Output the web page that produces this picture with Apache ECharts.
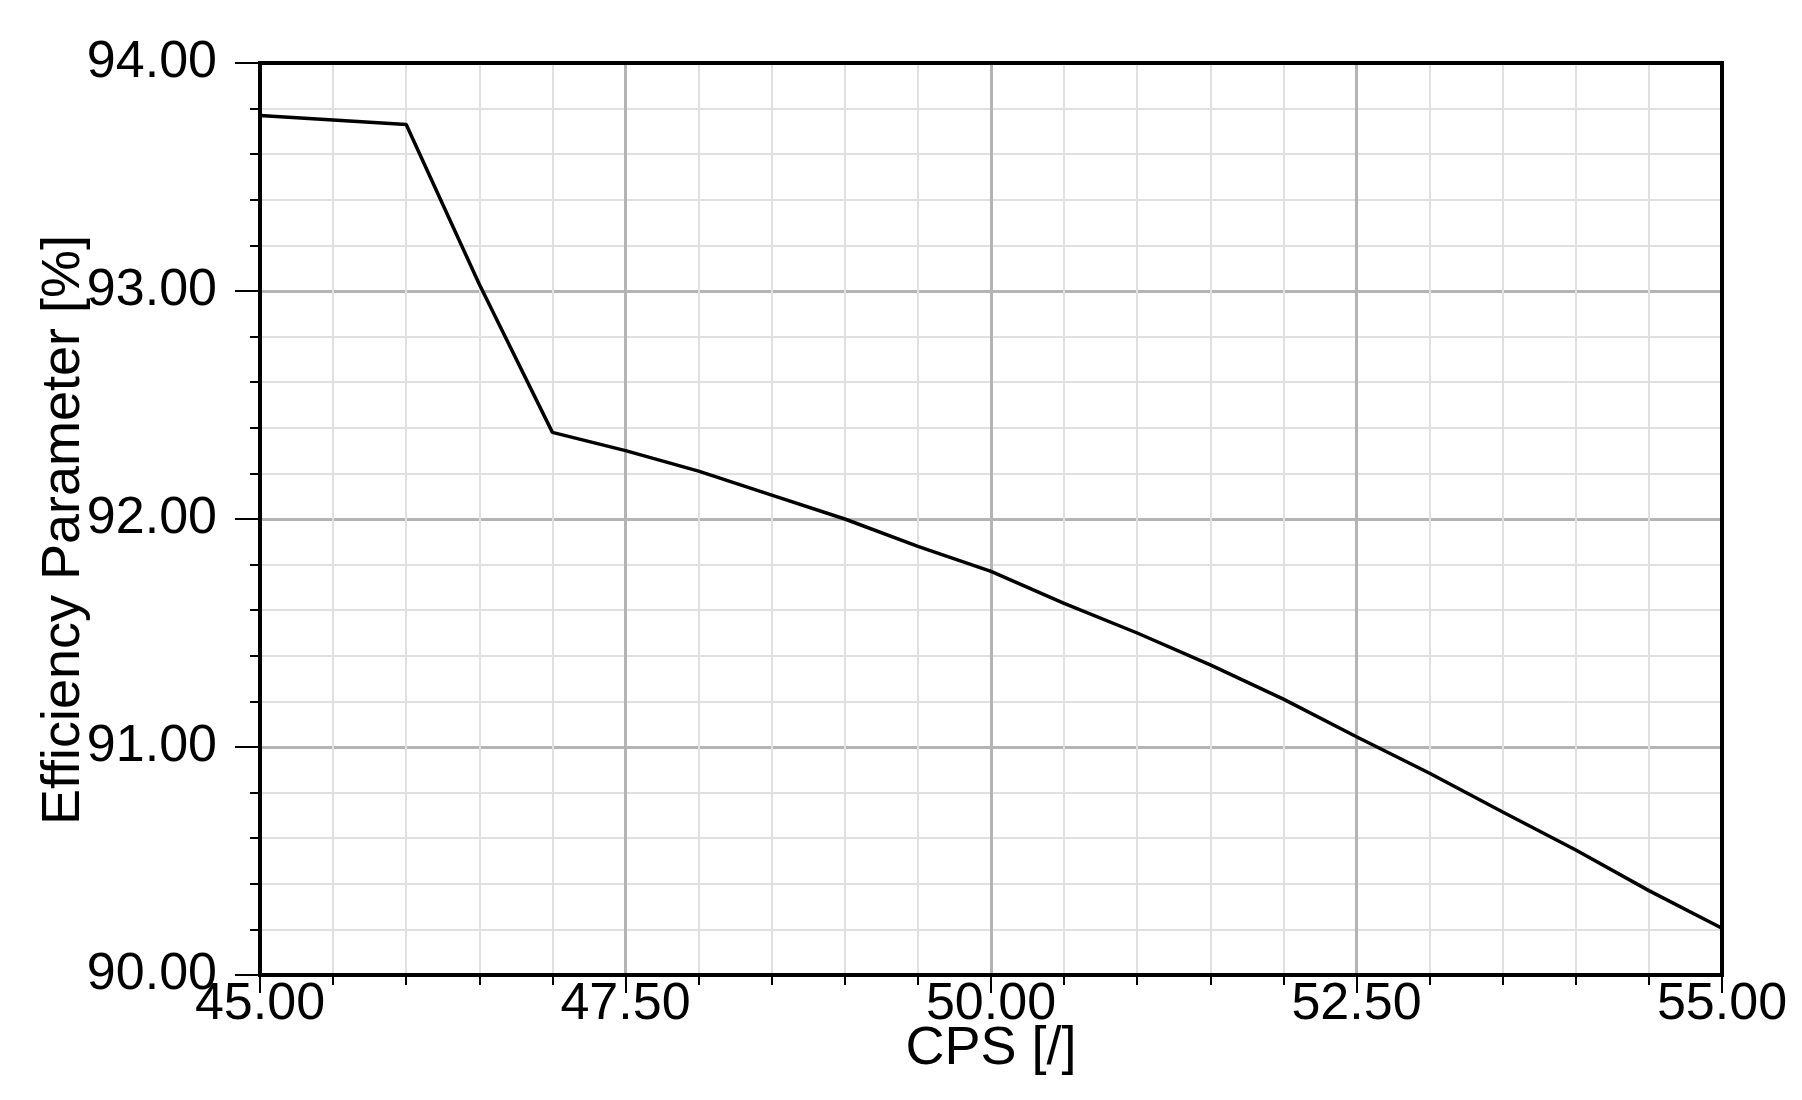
<!DOCTYPE html>
<html>
<head>
<meta charset="utf-8">
<script src="https://cdn.jsdelivr.net/npm/echarts@6/dist/echarts.min.js"></script>
<style>
  html, body { margin: 0; padding: 0; background: #fff; }
  #chart { width: 1802px; height: 1100px; }
</style>
</head>
<body>
<div id="chart"></div>
<script>
// CPS [/] values
const cps = [45.0, 45.5, 46.0, 46.5, 47.0, 47.5, 48.0, 48.5, 49.0, 49.5, 50.0,
             50.5, 51.0, 51.5, 52.0, 52.5, 53.0, 53.5, 54.0, 54.5, 55.0];
// Efficiency Parameter [%]
const efficiency = [93.77, 93.75, 93.73, 93.03, 92.38, 92.30, 92.21, 92.105, 92.00, 91.88, 91.77,
                    91.63, 91.50, 91.36, 91.21, 91.045, 90.885, 90.715, 90.548, 90.37, 90.205];

const xTitle = 'CPS [/]';
const yTitle = 'Efficiency Parameter [%]';

const FONT = "'Liberation Sans', Arial, sans-serif";
const FS = 52;
const NFS = 54;

const chart = echarts.init(document.getElementById('chart'), null, { renderer: 'canvas' });

const lineData = cps.map((x, i) => [x, efficiency[i]]);

chart.setOption({
  animation: false,
  backgroundColor: '#ffffff',
  grid: {
    left: 260, right: 80, top: 63, bottom: 125,
    show: true, borderColor: '#000', borderWidth: 4, backgroundColor: 'transparent', z: 5
  },
  xAxis: {
    type: 'value', min: 45, max: 55, interval: 2.5,
    name: xTitle, nameLocation: 'middle', nameGap: 47, nameMoveOverlap: false,
    nameTextStyle: { fontFamily: FONT, fontSize: NFS, color: '#000' },
    axisLine: { show: true, lineStyle: { color: '#000', width: 4 } },
    axisTick: { show: true, length: 18, lineStyle: { color: '#000', width: 2 } },
    minorTick: { show: true, splitNumber: 5, length: 10, lineStyle: { color: '#000', width: 2 } },
    axisLabel: { fontFamily: FONT, fontSize: FS, color: '#000', margin: 4,
      formatter: v => v.toFixed(2), showMinLabel: true, showMaxLabel: true },
    splitLine: { show: true, lineStyle: { color: '#b4b4b4', width: 3 } },
    minorSplitLine: { show: true, lineStyle: { color: '#e0e0e0', width: 2 } }
  },
  yAxis: {
    type: 'value', min: 90, max: 94, interval: 1,
    name: yTitle, nameLocation: 'middle', nameGap: 169, nameMoveOverlap: false,
    nameTextStyle: { fontFamily: FONT, fontSize: NFS, color: '#000', padding: [0, 22, 0, 0] },
    axisLine: { show: true, lineStyle: { color: '#000', width: 4 } },
    axisTick: { show: true, length: 25, lineStyle: { color: '#000', width: 2 } },
    minorTick: { show: true, splitNumber: 5, length: 10, lineStyle: { color: '#000', width: 2 } },
    axisLabel: { fontFamily: FONT, fontSize: FS, color: '#000', margin: 43,
      formatter: v => v.toFixed(2), padding: [0, 0, 12, 0] },
    splitLine: { show: true, lineStyle: { color: '#b4b4b4', width: 3 } },
    minorSplitLine: { show: true, lineStyle: { color: '#e0e0e0', width: 2 } }
  },
  series: [{
    type: 'line',
    data: lineData,
    showSymbol: false,
    smooth: false,
    lineStyle: { color: '#000', width: 3.5 },
    z: 3
  }]
});
</script>
</body>
</html>
